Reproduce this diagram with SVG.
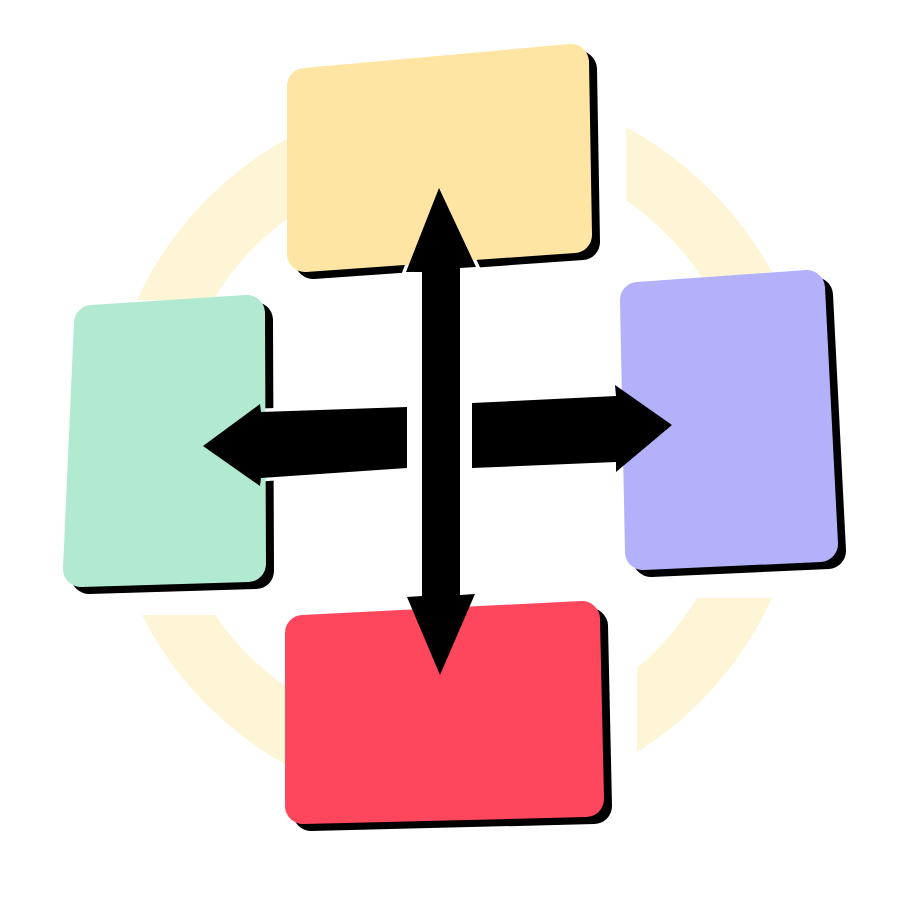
<svg xmlns="http://www.w3.org/2000/svg" width="900" height="900" viewBox="0 0 900 900">
  <style>
    .ring { fill: #fdf5d5; }
    .shadow { fill: #000; stroke: #000; stroke-width: 36; stroke-linejoin: round; }
    .box { stroke-width: 36; stroke-linejoin: round; }
    .arrow { fill: #000; }
  </style>
  <defs>
    <path id="arrUp" d="M439,188 L476,267 L460,268 L460,595 L475,594 L440,675 L407,597 L422,596 L422,272 L406,272 Z"/>
    <path id="arrL" d="M203,446 L260,404 L261,412 L407,407 L407,468 L261,478 L260,486 Z"/>
    <path id="arrR" d="M672,425 L616,472 L616,462 L472,468 L472,403 L616,396 L615,385 Z"/>
    <mask id="halo" maskUnits="userSpaceOnUse" x="0" y="0" width="900" height="900">
      <rect x="0" y="0" width="900" height="900" fill="#fff"/>
      <g fill="#000" stroke="#000" stroke-width="7" stroke-linejoin="miter">
        <use href="#arrUp"/>
        <use href="#arrL"/>
        <use href="#arrR"/>
      </g>
    </mask>
  </defs>
  <rect x="0" y="0" width="900" height="900" fill="#ffffff"/>

  <g id="ring">
    <path class="ring" d="M137,300 A350,350 0 0 1 300,132 L300,210 A283,283 0 0 0 213,300 Z"/>
    <path class="ring" d="M626,127 A368,368 0 0 1 786,300 L716,300 A305,305 0 0 0 626,200 Z"/>
    <path class="ring" d="M772,598 A355,355 0 0 1 637,752 L637,668 A288,288 0 0 0 697,598 Z"/>
    <path class="ring" d="M142,615 L215,615 A288,288 0 0 0 300,696 L300,772 A352,352 0 0 1 142,615 Z"/>
  </g>

  <g id="node-top">
    <polygon class="shadow" mask="url(#halo)" points="313,93 579,69 582,242 313,261"/>
    <polygon class="box" fill="#fee5a4" stroke="#fee5a4" points="305,86 571,62 574,235 305,254"/>
  </g>
  <g id="node-left">
    <polygon class="shadow" mask="url(#halo)" points="100,330 255,320 256,571 89,576"/>
    <polygon class="box" fill="#b1ead0" stroke="#b1ead0" points="92,323 247,313 248,564 81,569"/>
  </g>
  <g id="node-right">
    <polygon class="shadow" mask="url(#halo)" points="646,307 815,295 828,551 651,559"/>
    <polygon class="box" fill="#b3b1f9" stroke="#b3b1f9" points="638,300 807,288 820,544 643,552"/>
  </g>
  <g id="node-bottom">
    <polygon class="shadow" mask="url(#halo)" points="311,640 590,626 594,806 311,813"/>
    <polygon class="box" fill="#fe465d" stroke="#fe465d" points="303,633 582,619 586,799 303,806"/>
  </g>

  <g id="connectors">
    <use class="arrow" href="#arrUp"/>
    <use class="arrow" href="#arrL"/>
    <use class="arrow" href="#arrR"/>
  </g>
</svg>
